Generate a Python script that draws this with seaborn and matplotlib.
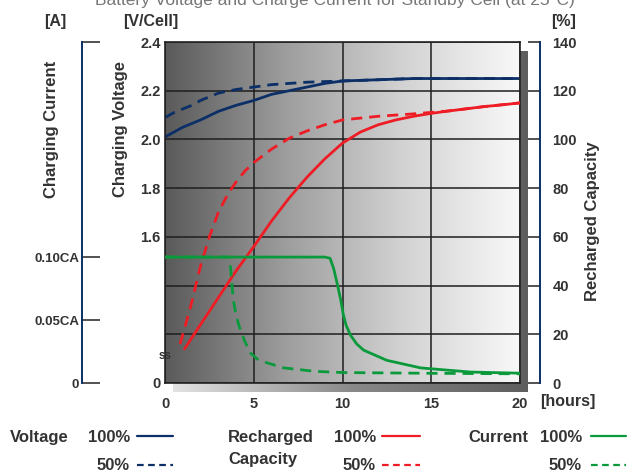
import numpy as np
import matplotlib
matplotlib.use("Agg")
import matplotlib.pyplot as plt
from matplotlib.colors import LinearSegmentedColormap
from matplotlib.lines import Line2D
import seaborn as sns

#### data
# charging voltage [V/cell]
t_v100 = [0, 1, 2, 3, 4, 5, 6, 7, 8, 9, 10, 12, 14, 16, 18, 20]
v_100 = [2.01, 2.05, 2.08, 2.115, 2.14, 2.16, 2.185, 2.20, 2.215, 2.23, 2.24, 2.245, 2.25, 2.25, 2.25, 2.25]
t_v50 = [0, 0.5, 1, 1.5, 2, 3, 4, 5, 6, 7, 8, 10, 12, 14, 16, 18, 20]
v_50 = [2.09, 2.11, 2.125, 2.14, 2.16, 2.19, 2.205, 2.215, 2.225, 2.23, 2.235, 2.24, 2.245, 2.25, 2.25, 2.25, 2.25]

# recharged capacity [%]
t_c100 = [1.1, 2, 3, 4, 5, 6, 7, 8, 9, 10, 11, 12, 13, 14, 15, 16, 17, 18, 19, 20]
c_100 = [14, 24, 35, 46, 56, 66.5, 76, 84.5, 92, 98.5, 103, 106, 108, 109.5, 110.7, 111.7, 112.6, 113.5, 114.2, 115]
t_c50 = [0.85, 1.2, 1.5, 2, 2.5, 3, 3.5, 4, 4.5, 5, 6, 7, 8, 9, 10, 12, 14, 16, 18, 20]
c_50 = [16, 25, 33, 48, 60, 70, 77, 82.5, 87, 90.5, 96, 100.5, 103.5, 106, 108, 109.5, 110.5, 111.7, 113.5, 115]

# charging current [CA]
t_i100 = [0, 9.0, 9.3, 9.5, 9.7, 9.9, 10.05, 10.2, 10.45, 10.8, 11.2, 12.5, 14.4, 17.2, 20]
i_100 = [0.100, 0.100, 0.099, 0.091, 0.079, 0.066, 0.054, 0.046, 0.038, 0.031, 0.026, 0.018, 0.012, 0.0087, 0.0078]
t_i50 = [0, 3.6, 3.7, 3.75, 3.85, 4.0, 4.2, 4.5, 4.8, 5.2, 5.75, 6.7, 8.4, 10, 15, 20]
i_50 = [0.100, 0.100, 0.091, 0.081, 0.066, 0.054, 0.044, 0.033, 0.024, 0.019, 0.016, 0.012, 0.0093, 0.0083, 0.0077, 0.0073]

x_ticks = [0, 5, 10, 15, 20]
v_ticks = [1.0, 1.2, 1.4, 1.6, 1.8, 2.0, 2.2, 2.4]
v_ticklabels = ["0", "", "", "1.6", "1.8", "2.0", "2.2", "2.4"]
c_ticks = [0, 20, 40, 60, 80, 100, 120, 140]
i_ticks = [0, 0.05, 0.10]
i_ticklabels = ["0", "0.05CA", "0.10CA"]

title = "Battery Voltage and Charge Current for Standby Cell (at 25°C)"

NAVY = "#0b2f66"
RED = "#ee1c25"
GREEN = "#0a9a3c"
TXT = "#333333"

sns.set_theme(style="white")
plt.rcParams["font.family"] = ["Liberation Sans", "DejaVu Sans"]
plt.rcParams["font.weight"] = "bold"

W, H = 627, 473
fig = plt.figure(figsize=(W / 100, H / 100), dpi=100)


def fx(x):
    return x / W


def fy(y):
    return 1 - y / H


ax_pos = [fx(165), fy(383), (520 - 165) / W, (383 - 42) / H]

#### drop shadow behind the plot
sh = fig.add_axes([fx(173), fy(392), ax_pos[2], ax_pos[3]], zorder=-5)
sh_cmap = LinearSegmentedColormap.from_list("sh", ["#e2e2e2", "#8a8a8a", "#5e5e5e"])
sh.imshow(np.linspace(0, 1, 256)[None, :], cmap=sh_cmap, aspect="auto", extent=[0, 1, 0, 1])
sh.axis("off")

#### main axes (voltage)
ax = fig.add_axes(ax_pos)
bg_cmap = LinearSegmentedColormap.from_list("bg", ["#5a5a5a", "#9c9c9c", "#d2d2d2", "#f8f8f8"])
ax.imshow(np.linspace(0, 1, 256)[None, :], cmap=bg_cmap, aspect="auto",
          extent=[0, 1, 0, 1], transform=ax.transAxes, zorder=-1)

sns.lineplot(x=t_v100, y=v_100, ax=ax, color=NAVY, lw=2.0)
sns.lineplot(x=t_v50, y=v_50, ax=ax, color=NAVY, lw=2.0, linestyle=(0, (4, 2.5)))

ax.set_xlim(0, 20)
ax.set_ylim(1.0, 2.4)
ax.set_xticks(x_ticks)
ax.set_xticklabels([str(x) for x in x_ticks])
ax.set_yticks(v_ticks)
ax.set_yticklabels(v_ticklabels)
ax.grid(True, color="#1e1e1e", lw=1.1)
ax.set_axisbelow(True)
ax.tick_params(axis="y", length=0, pad=3, labelsize=10.5, labelcolor=TXT)
ax.tick_params(axis="x", length=0, pad=10, labelsize=10.5, labelcolor=TXT)
for s in ax.spines.values():
    s.set_color("#222222")
    s.set_linewidth(1.2)

#### recharged capacity axis (right)
ax_c = ax.twinx()
sns.lineplot(x=t_c100, y=c_100, ax=ax_c, color=RED, lw=2.0)
sns.lineplot(x=t_c50, y=c_50, ax=ax_c, color=RED, lw=2.0, linestyle=(0, (4, 2.5)))
ax_c.set_ylim(0, 140)
ax_c.set_yticks(c_ticks)
ax_c.set_yticklabels([str(c) for c in c_ticks])
ax_c.spines["right"].set_position(("outward", 14.4))
ax_c.spines["right"].set_color(NAVY)
ax_c.spines["right"].set_linewidth(1.4)
for k in ["top", "bottom", "left"]:
    ax_c.spines[k].set_visible(False)
ax_c.tick_params(axis="y", direction="in", length=9, width=1.1, color="#222222",
                 pad=9, labelsize=10.5, labelcolor=TXT)
ax_c.grid(False)
ax_c.set_ylabel("")

#### charging current axis (far left)
ax_i = ax.twinx()
sns.lineplot(x=t_i100, y=i_100, ax=ax_i, color=GREEN, lw=2.0)
sns.lineplot(x=t_i50, y=i_50, ax=ax_i, color=GREEN, lw=2.0, linestyle=(0, (4, 2.5)))
ax_i.set_ylim(0, 0.10 * 140 / 51.7)
ax_i.yaxis.tick_left()
ax_i.set_yticks(i_ticks + [0.10 * 140 / 51.7])
ax_i.set_yticklabels(i_ticklabels + [""])
for k in ["top", "bottom", "right"]:
    ax_i.spines[k].set_visible(False)
ax_i.spines["left"].set_visible(True)
ax_i.spines["left"].set_position(("outward", 59.8))
ax_i.spines["left"].set_color(NAVY)
ax_i.spines["left"].set_linewidth(1.4)
ax_i.tick_params(axis="y", direction="in", length=13, width=1.1, color="#222222",
                 pad=2, labelsize=9.5, labelcolor=TXT)
ax_i.grid(False)
ax_i.set_ylabel("")

ax_c.text(0, 11, "ss", fontsize=8.5, ha="center", va="center", color=TXT)

#### axis titles and units
fig.text(fx(52), fy(129), "Charging Current", rotation=90, ha="center", va="center",
         fontsize=12, color=TXT)
fig.text(fx(120), fy(129), "Charging Voltage", rotation=90, ha="center", va="center",
         fontsize=12, color=TXT)
fig.text(fx(593), fy(221), "Recharged Capacity", rotation=90, ha="center", va="center",
         fontsize=12, color=TXT)
fig.text(fx(55), fy(21), "[A]", ha="center", va="center", fontsize=11.5, color=TXT)
fig.text(fx(151), fy(21), "[V/Cell]", ha="center", va="center", fontsize=11.5, color=TXT)
fig.text(fx(564), fy(21), "[%]", ha="center", va="center", fontsize=11.5, color=TXT)
fig.text(fx(568), fy(401), "[hours]", ha="center", va="center", fontsize=11.5, color=TXT)
# the chart title sits half outside the top edge, as in the source image
fig.text(fx(335), fy(5), title, ha="center", va="baseline", fontsize=12.5,
         fontweight="normal", color="#777777")

#### legend
row1, row2 = 437, 465
groups = [
    ("Voltage", 10, 130, 137, 173, NAVY),
    ("Recharged\nCapacity", 228, 376, 382, 420, RED),
    ("Current", 468, 582, 591, 626, GREEN),
]
for name, x_name, x_pct, x0, x1, col in groups:
    if "\n" in name:
        a, b = name.split("\n")
        fig.text(fx(x_name), fy(row1), a, ha="left", va="center", fontsize=12, color=TXT)
        fig.text(fx(x_name), fy(459), b, ha="left", va="center", fontsize=12, color=TXT)
    else:
        fig.text(fx(x_name), fy(row1), name, ha="left", va="center", fontsize=12, color=TXT)
    fig.text(fx(x_pct), fy(row1), "100%", ha="right", va="center", fontsize=12, color=TXT)
    fig.text(fx(x_pct), fy(row2), "50%", ha="right", va="center", fontsize=12, color=TXT)
    fig.add_artist(Line2D([fx(x0), fx(x1)], [fy(row1 - 1), fy(row1 - 1)], color=col, lw=1.6))
    fig.add_artist(Line2D([fx(x0), fx(x1)], [fy(row2), fy(row2)], color=col, lw=1.6,
                          linestyle=(0, (3, 2))))

fig.savefig("out.png", dpi=100)
